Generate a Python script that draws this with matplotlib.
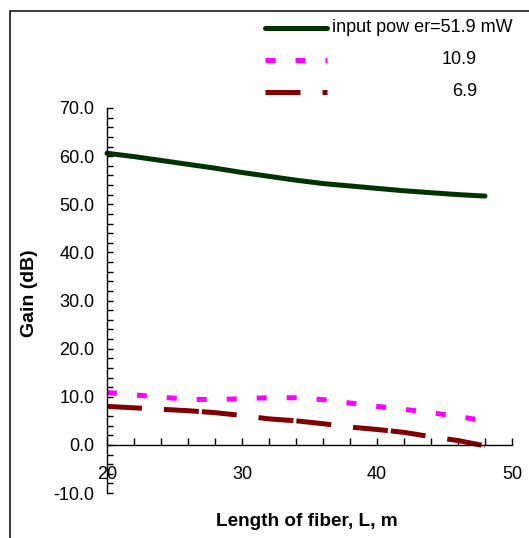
import matplotlib
matplotlib.use("Agg")
import matplotlib.pyplot as plt
from matplotlib.lines import Line2D
from matplotlib.patches import Rectangle
from matplotlib.ticker import MultipleLocator, FormatStrFormatter

plt.rcParams['font.family'] = ['Liberation Sans', 'DejaVu Sans']
plt.rcParams['lines.scale_dashes'] = False

# Fiber length (m) and gain (dB) for three input powers
length_m = [20, 22, 24, 26, 28, 30, 32, 34, 36, 38, 40, 42, 44, 46, 48]
gain_51_9 = [60.6, 59.9, 59.1, 58.3, 57.5, 56.6, 55.8, 55.0, 54.3, 53.8, 53.3, 52.8, 52.4, 52.0, 51.7]
gain_10_9 = [10.9, 10.4, 9.9, 9.5, 9.4, 9.6, 9.8, 9.8, 9.4, 8.7, 8.0, 7.4, 6.7, 5.9, 5.0]
gain_6_9 = [8.0, 7.7, 7.4, 7.1, 6.7, 6.1, 5.4, 5.0, 4.4, 3.7, 3.2, 2.6, 1.7, 0.9, -0.2]

series_labels = ["input pow er=51.9 mW", "10.9", "6.9"]
x_label = "Length of fiber, L, m"
y_label = "Gain (dB)"

W, H = 529, 538
DPI = 100
fig = plt.figure(figsize=(W / DPI, H / DPI), dpi=DPI)
fig.patch.set_facecolor("white")

PX = 72.0 / DPI  # points per pixel


def fx(px):
    return px / W


def fy(py):
    return 1 - py / H


# outer chart frame (left and top edges visible)
frame = Rectangle((fx(10), fy(H + 5)), fx(W + 10) - fx(10), fy(11) - fy(H + 5),
                  transform=fig.transFigure, fill=False, edgecolor="black",
                  linewidth=1.5 * PX, zorder=0)
fig.add_artist(frame)

ax = fig.add_axes([fx(107), fy(493), fx(512) - fx(107), fy(108) - fy(493)])
ax.set_facecolor("none")

lw = 5 * PX
green = "#003300"
magenta = "#FF00FF"
darkred = "#800000"

styles = [
    dict(color=green, linestyle="-", solid_capstyle="round"),
    dict(color=magenta, linestyle=(0, (10 * PX, 20 * PX)), dash_capstyle="butt"),
    dict(color=darkred, linestyle=(0, (35 * PX, 22 * PX, 35 * PX, 3 * PX)), dash_capstyle="butt"),
]
for yv, st in zip([gain_51_9, gain_10_9, gain_6_9], styles):
    ax.plot(length_m, yv, linewidth=lw, clip_on=False, **st)

ax.set_xlim(20, 50)
ax.set_ylim(-10, 70)

for s in ["top", "right"]:
    ax.spines[s].set_visible(False)
ax.spines["bottom"].set_position(("data", 0))
ax.spines["left"].set_linewidth(1.0)
ax.spines["bottom"].set_linewidth(1.0)

ax.xaxis.set_major_locator(MultipleLocator(10))
ax.xaxis.set_minor_locator(MultipleLocator(2))
ax.yaxis.set_major_locator(MultipleLocator(10))
ax.yaxis.set_minor_locator(MultipleLocator(2))
ax.yaxis.set_major_formatter(FormatStrFormatter("%.1f"))

ax.tick_params(axis="x", which="both", direction="in", length=5, width=1.0,
               labelsize=13, pad=15)
ax.tick_params(axis="y", which="both", direction="in", length=4, width=1.0,
               labelsize=13, pad=9)

# axis titles placed in the chart area below / left of the plot
fig.text(fx(307), fy(522), x_label, fontsize=13.7, fontweight="bold",
         ha="center", va="center")
fig.text(fx(30), fy(293), y_label, fontsize=14, fontweight="bold",
         ha="center", va="center", rotation=90)

# legend
leg_y = [28, 60, 92]
for i, (lab, st) in enumerate(zip(series_labels, styles)):
    ln = Line2D([fx(265), fx(327)], [fy(leg_y[i])] * 2, transform=fig.transFigure,
                linewidth=lw, **st)
    fig.add_artist(ln)
    if i == 0:
        fig.text(fx(332), fy(leg_y[i]), lab, fontsize=13, ha="left", va="center")
    else:
        fig.text(fx(477), fy(leg_y[i]), lab, fontsize=13, ha="right", va="center")

fig.savefig("out.png", dpi=DPI, facecolor="white")
